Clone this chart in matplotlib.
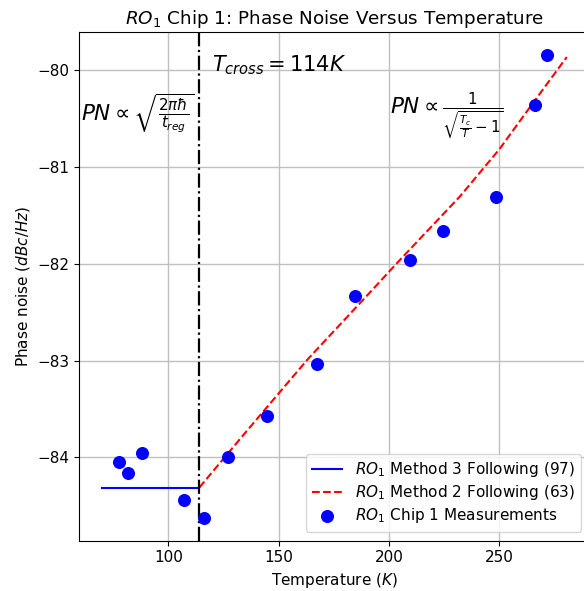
import matplotlib
matplotlib.use('Agg')
import matplotlib.pyplot as plt

temp_meas = [77.6, 81.8, 87.9, 107.0, 116.2, 127.0, 144.6, 167.1, 184.5, 209.3, 224.4, 248.5, 265.9, 271.6]
pn_meas = [-84.05, -84.16, -83.95, -84.44, -84.62, -84.00, -83.57, -83.04, -82.33, -81.96, -81.66, -81.31, -80.36, -79.85]

# method 3 (flat, below crossover)
temp_m3 = [70, 114]
pn_m3 = [-84.31, -84.31]

# method 2 curve (above crossover)
temp_m2 = [114, 135, 163, 190, 205, 232, 250, 265, 280.5]
pn_m2 = [-84.31, -83.74, -82.99, -82.33, -81.96, -81.31, -80.82, -80.35, -79.87]

t_cross = 114

fig = plt.figure(figsize=(5.84, 5.91), dpi=100)
ax = fig.add_axes([0.1353, 0.0851, 0.875, 0.8608])

ax.plot(temp_m3, pn_m3, color='blue', lw=1.5, label='$RO_1$ Method 3 Following (97)')
ax.plot(temp_m2, pn_m2, color='red', ls='--', lw=1.5, label='$RO_1$ Method 2 Following (63)')
ax.scatter(temp_meas, pn_meas, color='blue', s=70, zorder=3, label='$RO_1$ Chip 1 Measurements')
ax.axvline(t_cross, color='black', ls='-.', lw=1.6)

ax.text(119.8, -79.95, r'$T_{cross} = 114K$', fontsize=15, va='center', ha='left')
ax.text(60.2, -80.45, r'$PN \propto \sqrt{\frac{2\pi\hbar}{t_{reg}}}$', fontsize=15.5, va='center', ha='left')
ax.text(200.3, -80.47, r'$PN \propto \frac{1}{\sqrt{\frac{T_c}{T}-1}}$', fontsize=15.5, va='center', ha='left')

ax.grid(True, color='#c0c0c0', lw=1.0)
ax.set_axisbelow(True)
ax.set_title('$RO_1$ Chip 1: Phase Noise Versus Temperature', fontsize=13.2)
ax.set_xlabel('Temperature ($K$)', fontsize=11)
ax.set_ylabel('Phase noise ($dBc/Hz$)', fontsize=11)
ax.tick_params(labelsize=11)
ax.legend(loc='lower right', fontsize=11, labelspacing=0.28, borderaxespad=0.6)

fig.savefig('out.png', dpi=100)
